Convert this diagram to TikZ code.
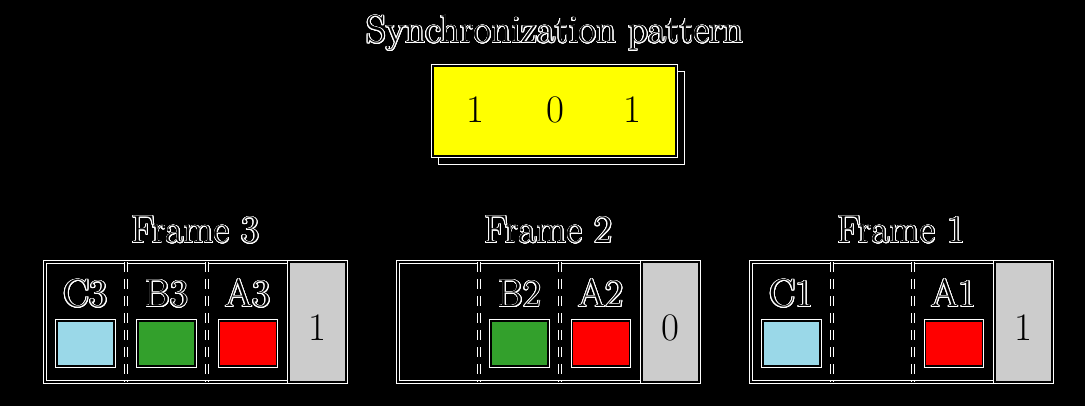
\documentclass[tikz,border=0pt]{standalone}
\usepackage{fontspec}
\usepackage{contour}
\contourlength{0.7pt}
\contournumber{24}
\usetikzlibrary{calc}
\definecolor{cblue}{RGB}{154,216,232}
\definecolor{cgreen}{RGB}{51,160,44}
\definecolor{cred}{RGB}{255,0,0}
\definecolor{cgray}{RGB}{204,204,204}
\definecolor{cyel}{RGB}{255,255,0}
\newcommand{\hlt}[1]{\contour{white}{#1}}
\begin{document}
\begin{tikzpicture}[x=1pt,y=-1pt,
  txt/.style={font=\fontsize{39}{46}\selectfont, text=black, inner sep=0pt, anchor=base},
  halo/.style={preaction={draw=white, line width=3.8pt}, draw=black, line width=1.6pt},
  frm/.style={halo, rectangle, minimum width=301pt, minimum height=120pt, inner sep=0pt, outer sep=0pt},
  graycell/.style={halo, rectangle, fill=cgray, minimum width=57pt, minimum height=120pt, inner sep=0pt, outer sep=0pt},
  divw/.style={draw=white, line width=4.2pt, dash pattern=on 10pt off 7pt},
  divb/.style={draw=black, line width=1.8pt, dash pattern=on 10pt off 7pt},
  chip/.style={rectangle, minimum width=57pt, minimum height=45pt, inner sep=0pt, outer sep=0pt,
    preaction={draw=white, line width=3.6pt}, draw=black, line width=1.8pt},
  bigbox/.style={rectangle, minimum width=243pt, minimum height=90pt, inner sep=0pt, outer sep=0pt,
    preaction={draw=white, line width=3.6pt}, draw=black, line width=1.8pt},
]
\fill[black] (0,0) rectangle (1085,406);
\useasboundingbox (0,0) rectangle (1085,406);

% synchronization pattern
\node[txt] (title) at (555,43) {\hlt{Synchronization pattern}};
\node[bigbox, fill=black] (syncshadow) at (561.5,118) {};
\node[bigbox, fill=cyel] (sync) at (554.5,111) {};
\node[txt] (s1) at (475,122.7) {1};
\node[txt] (s2) at (555,122.7) {0};
\node[txt] (s3) at (632,122.7) {1};

% Frame 3
\node[txt] (t3) at (195.5,243) {\hlt{Frame 3}};
\node[frm] (f3) at (195.5,322) {};
\node[graycell] (g3) at (317.5,322) {};
\foreach \dx in {81,162}{
  \draw[divw] ([xshift=\dx pt]f3.north west) -- ([xshift=\dx pt]f3.south west);
  \draw[divb] ([xshift=\dx pt]f3.north west) -- ([xshift=\dx pt]f3.south west);
}
\node[txt] (lc3) at (85.5,307) {\hlt{C3}};
\node[txt] (lb3) at (166.5,307) {\hlt{B3}};
\node[txt] (la3) at (248,307) {\hlt{A3}};
\node[chip, fill=cblue] (c3) at (85.5,343.5) {};
\node[chip, fill=cgreen] (b3) at (166.5,343.5) {};
\node[chip, fill=cred] (a3) at (248,343.5) {};
\node[txt] (d3) at (317.5,340) {1};

% Frame 2
\node[txt] (t2) at (548.5,243) {\hlt{Frame 2}};
\node[frm] (f2) at (548.5,322) {};
\node[graycell] (g2) at (670.5,322) {};
\foreach \dx in {81,162}{
  \draw[divw] ([xshift=\dx pt]f2.north west) -- ([xshift=\dx pt]f2.south west);
  \draw[divb] ([xshift=\dx pt]f2.north west) -- ([xshift=\dx pt]f2.south west);
}
\node[txt] (lb2) at (519.5,307) {\hlt{B2}};
\node[txt] (la2) at (601,307) {\hlt{A2}};
\node[chip, fill=cgreen] (b2) at (519.5,343.5) {};
\node[chip, fill=cred] (a2) at (601,343.5) {};
\node[txt] (d2) at (670.5,340) {0};

% Frame 1
\node[txt] (t1) at (901.5,243) {\hlt{Frame 1}};
\node[frm] (f1) at (901.5,322) {};
\node[graycell] (g1) at (1023.5,322) {};
\foreach \dx in {81,162}{
  \draw[divw] ([xshift=\dx pt]f1.north west) -- ([xshift=\dx pt]f1.south west);
  \draw[divb] ([xshift=\dx pt]f1.north west) -- ([xshift=\dx pt]f1.south west);
}
\node[txt] (lc1) at (791.5,307) {\hlt{C1}};
\node[txt] (la1) at (954,307) {\hlt{A1}};
\node[chip, fill=cblue] (c1) at (791.5,343.5) {};
\node[chip, fill=cred] (a1) at (954,343.5) {};
\node[txt] (d1) at (1023.5,340) {1};
\end{tikzpicture}
\end{document}
